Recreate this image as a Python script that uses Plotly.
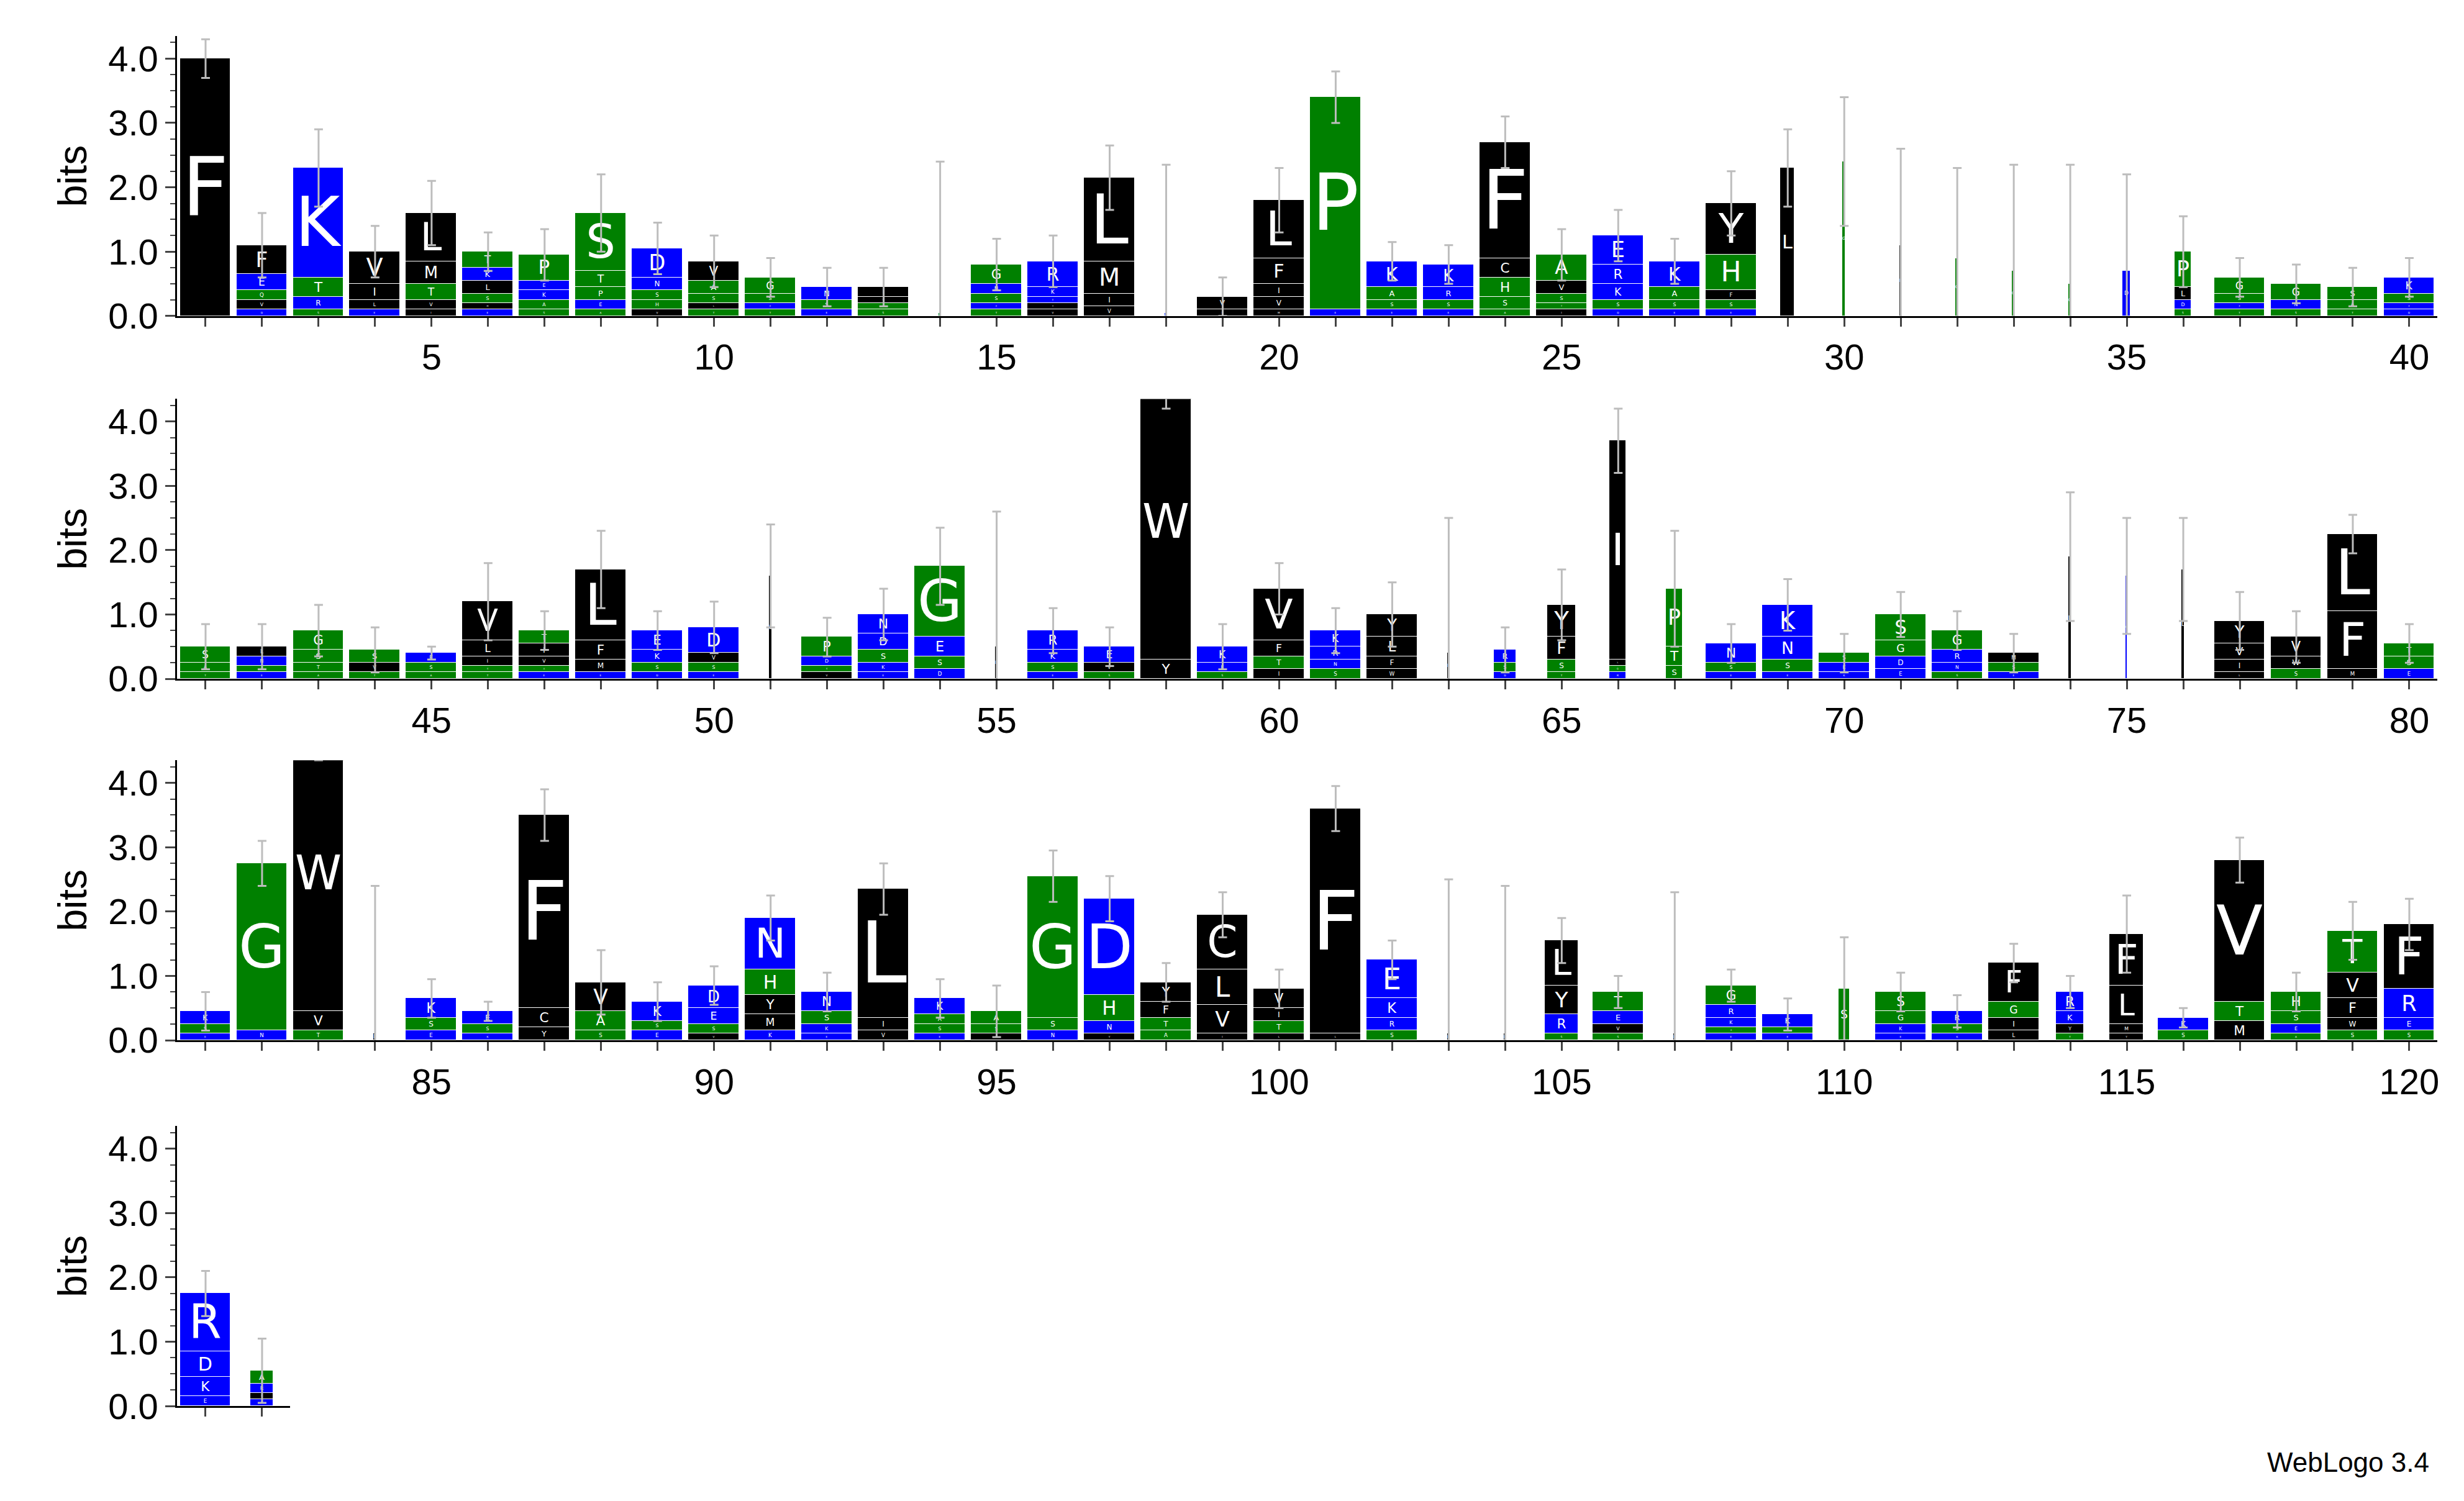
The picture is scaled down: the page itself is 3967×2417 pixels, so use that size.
import plotly.graph_objects as go

# column contents, top letter first: "letter height" pairs
columns = [
    "F4.0", "F.45 E.25 Q.15 V.15 D.1", "K1.7 T.3 R.2 S.1", "V.5 I.25 L.15 E.1",
    "L.75 M.35 T.25 V.15 I.1", "T.25 K.2 L.2 S.15 M.1 E.1", "P.4 E.15 K.15 A.15 S.1",
    "S.9 T.25 P.2 E.15 A.1", "D.45 N.2 S.15 H.15 V.1", "V.3 A.2 S.15 L.1 T.1",
    "G.25 S.15 E.1 T.1", "N.2 S.15 E.1", "I.15 V.1 A.1 S.1", "S.05",
    "G.3 N.15 S.15 E.1 T.1", "R.4 K.15 E.1 Y.1 V.1", "L1.3 M.5 I.2 V.15", "D.05",
    "V.2 L.1", "L.9 F.4 I.2 V.2 M.1", "P3.3 E.1", "K.4 A.2 S.15 E.1", "K.35 R.2 S.15 E.1",
    "F1.8 C.3 H.3 S.2 A.1", "A.4 V.2 S.15 T.1 I.1", "E.45 R.3 K.25 S.15 D.1",
    "K.4 A.2 S.15 E.1", "Y.8 H.55 F.15 S.15 E.1", "L2.3", "G2.4", "L1.1", "G.9", "G.7",
    "G.5", "D.7", "P.55 L.2 D.15 S.1", "G.25 S.15 E.1 T.1", "G.25 N.15 S.1",
    "S.2 A.15 T.1", "K.25 S.15 E.1 D.1",
    # 41-80
    "S.25 A.15 T.1", "L.15 N.15 S.1 E.1", "G.3 S.2 T.15 A.1", "S.2 V.15 T.1",
    "E.15 S.15 A.1", "V.6 L.25 I.15 S.1 T.1", "T.2 I.2 V.15 A.1 E.1", "L1.1 F.3 M.2 E.1",
    "E.3 K.2 S.15 D.1", "D.4 V.15 S.15 E.1", "L1.6", "P.3 D.15 S.1 V.1",
    "N.3 D.25 S.2 K.15 E.1", "G1.1 E.3 S.2 D.15", "L.5", "R.3 K.2 S.15 E.1",
    "E.25 V.15 S.1", "W4.3 Y.3", "K.25 E.15 S.1", "V.8 F.25 T.2 I.15",
    "K.25 R.2 N.15 S.15", "Y.35 L.3 F.2 W.15", "L.4", "R.2 S.15 D.1",
    "Y.5 F.35 S.2 T.1", "I3.4 L.1 Q.1 R.1", "P.9 T.3 S.2", "N.3 S.15 E.1",
    "K.5 N.35 S.2 E.1", "S.15 E.15 K.1", "S.4 G.25 D.2 E.15", "G.3 R.2 N.15 S.1",
    "M.15 S.15 E.1", "L1.9", "K1.6", "L1.7", "Y.35 V.25 I.2 L.1", "V.3 W.2 S.15",
    "L1.2 F.9 M.15", "T.2 S.2 E.15",
    # 81-120
    "K.2 S.15 E.1", "G2.6 N.15", "W4.3 V.3 T.15", "L.1", "K.3 S.2 E.15", "E.2 S.15 K.1",
    "F3.0 C.3 Y.2", "V.45 A.3 S.15", "K.3 S.15 E.15", "D.35 E.25 S.15 V.1",
    "N.8 H.4 Y.3 M.25 K.15", "N.3 S.2 K.15 E.1", "L2.0 I.2 V.15", "K.25 A.15 S.15 E.1",
    "A.2 S.15 V.1", "G2.2 S.2 N.15", "D1.5 H.4 N.2 Y.1", "Y.3 F.25 T.2 A.15",
    "C.85 L.55 V.45 I.1", "V.3 I.2 T.2 L.1", "F3.5 L.1", "E.6 K.3 R.2 S.15", "L.1",
    "L.1", "L.7 Y.45 R.3 S.1", "T.3 E.2 V.15 S.1", "L.1", "G.3 R.2 K.15 S.1 E.1",
    "K.2 S.1 E.1", "S.8", "S.3 G.2 K.15 E.1", "R.2 S.15 K.1", "F.6 G.25 I.2 L.15",
    "R.3 K.2 Y.15 T.1", "F.8 L.6 M.15 Y.1", "K.2 S.15", "V2.2 T.3 M.3",
    "H.3 S.2 E.15 A.1", "T.65 V.4 F.3 W.2 S.15", "F1.0 R.45 E.2 S.15",
    # 121-122
    "R.9 D.4 K.3 E.15", "A.2 R.15 V.1 K.1",
]

# error bar half-widths, one per position
errors = [
    .3, .5, .6, .4, .5, .3, .4, .6, .4, .4, .3, .3, .3, 2.35, .4, .4, .5, 2.3, .3, .5,
    .4, .3, .3, .4, .4, .4, .35, .5, .6, 1.0, 1.5, 1.4, 1.65, 1.85, 1.5, .55, .3, .3, .3, .3,
    .35, .35, .4, .35, .1, .6, .3, .6, .3, .4, .8, .3, .4, .6, 2.1, .35, .3, .4, .35, .4,
    .35, .5, 2.1, .35, .55, .5, .9, .3, .4, .3, .35, .3, .3, 1.0, .9, .8, .45, .4, .3, .3,
    .3, .35, .4, 2.3, .3, .15, .4, .5, .3, .3, .35, .3, .4, .3, .4, .4, .35, .3, .35, .3,
    .35, .3, 2.4, 2.3, .35, .25, 2.2, .25, .25, .8, .3, .25, .3, .25, .6, .15, .35, .3, .45, .4,
    .35, .5,
]

# column widths (gap-rich columns are drawn narrow)
widths = {29: .25, 30: .06, 31: .04, 32: .05, 33: .05, 34: .05, 35: .15, 36: .3,
          51: .05, 55: .05, 63: .05, 64: .4, 65: .5, 66: .3, 67: .3, 74: .05, 75: .04,
          76: .05, 84: .05, 103: .05, 104: .05, 105: .6, 107: .05, 110: .2, 114: .5,
          115: .6, 122: .4, 14: .05, 18: .05}

tick_labels = ["0.0", "1.0", "2.0", "3.0", "4.0"]

black, green, blue = "#000000", "#008000", "#0000ff"
colours = {c: black for c in "FWYLIVMC"}
colours.update({c: green for c in "GSTAPHQ"})
colours.update({c: blue for c in "DEKRN"})

parsed = [[(t[0], float(t[1:])) for t in col.split()] for col in columns]

rows = [(1, 40), (41, 80), (81, 120), (121, 122)]
domains_y = [(0.790, 0.979), (0.545, 0.734), (0.301, 0.490), (0.054, 0.243)]
x0, x1 = 0.070, 0.988

fig = go.Figure()
font = "Liberation Sans, Arial, sans-serif"
layout = dict(barmode="stack", showlegend=False, width=3967, height=2417,
              paper_bgcolor="white", plot_bgcolor="white",
              margin=dict(l=0, r=0, t=0, b=0), bargap=0,
              font=dict(family=font, size=58, color="black"))

for r, (start, end) in enumerate(rows):
    sfx = "" if r == 0 else str(r + 1)
    xa, ya = "x" + sfx, "y" + sfx
    positions = list(range(start, end + 1))
    max_lv = max(len(parsed[p - 1]) for p in positions)
    for lv in range(max_lv):
        xs, ys, cs, ts, ws = [], [], [], [], []
        for p in positions:
            col = parsed[p - 1][::-1]
            if lv < len(col):
                letter, h = col[lv]
            else:
                letter, h = "", 0
            xs.append(p); ys.append(h); ts.append(letter)
            cs.append(colours.get(letter, black)); ws.append(widths.get(p, .9))
        fig.add_trace(go.Bar(
            x=xs, y=ys, text=ts, width=ws, xaxis=xa, yaxis=ya,
            marker=dict(color=cs, line=dict(color="white", width=1)),
            textposition="inside", insidetextanchor="middle", textangle=0,
            textfont=dict(color="white", size=150, family="DejaVu Sans, sans-serif"),
            hoverinfo="skip"))
    tops = [sum(h for _, h in parsed[p - 1]) for p in positions]
    fig.add_trace(go.Scatter(
        x=positions, y=tops, mode="markers", xaxis=xa, yaxis=ya,
        marker=dict(size=1, color="rgba(0,0,0,0)"), cliponaxis=True,
        error_y=dict(type="data", array=[errors[p - 1] for p in positions],
                     color="#bdbdbd", thickness=3, width=7),
        hoverinfo="skip"))
    right = x1 if end - start > 2 else x0 + (x1 - x0) * (end - start + 1) / 40
    layout["xaxis" + sfx] = dict(
        domain=[x0, right], range=[start - 0.5, end + 0.5], anchor=ya,
        tickvals=positions, ticktext=[str(p) if p % 5 == 0 else "" for p in positions],
        ticks="outside", ticklen=14, tickwidth=3, showline=True, linewidth=3,
        linecolor="black", showgrid=False, zeroline=False, tickfont=dict(size=58))
    layout["yaxis" + sfx] = dict(
        domain=list(domains_y[r]), range=[0, 4.35], anchor=xa,
        tickvals=[0, 1, 2, 3, 4], ticktext=tick_labels, ticks="outside", ticklen=16,
        tickwidth=3, showline=True, linewidth=3, linecolor="black", showgrid=False,
        zeroline=False, tickfont=dict(size=58),
        minor=dict(dtick=0.25, ticks="outside", ticklen=8, tickwidth=2),
        title=dict(text="bits", font=dict(size=64), standoff=14))

fig.update_layout(**layout)
fig.add_annotation(text="WebLogo 3.4", xref="paper", yref="paper", x=0.985, y=0.005,
                   xanchor="right", yanchor="bottom", showarrow=False,
                   font=dict(size=44, family=font))

fig.write_html("out.html")
